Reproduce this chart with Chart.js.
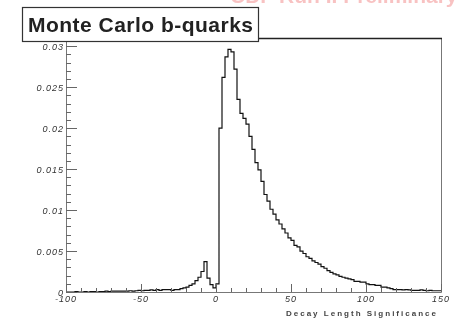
<!DOCTYPE html>
<html><head><meta charset="utf-8">
<script src="https://cdn.jsdelivr.net/npm/chart.js@4"></script>
<style>html,body{margin:0;padding:0;background:#fff;}canvas{display:block;}</style>
</head><body>
<canvas id="c" width="456" height="321"></canvas>
<script>
// ---- data ----
const titleText = "Monte Carlo b-quarks";
const xAxisTitle = "Decay Length Significance";
const bannerText = "CDF Run II Preliminary";
const binStart = -100;
const binWidth = 2;
// bin contents (normalised), one per 2-unit bin from -100 to 150
const binValues = [
  // -100 .. -62
  0, 0, 0, 0, 0.00005, 0, 0, 0.00005, 0, 0.00005, 0.00005, 0, 0.00005, 0.00005, 0.0001, 0.00005, 0.0001, 0.0001, 0.0001, 0.0001,
  // -60 .. -42
  0.0001, 0.0001, 0.00015, 0.0001, 0.00015, 0.0002, 0.00015, 0.0002, 0.0002, 0.00025,
  // -40 .. -22
  0.0002, 0.0003, 0.0002, 0.0003, 0.0003, 0.0003, 0.0002, 0.0003, 0.0003, 0.0004,
  // -20 .. -2
  0.0005, 0.0006, 0.0008, 0.0010, 0.0014, 0.0018, 0.0025, 0.0037, 0.0017, 0.0009,
  // 0 .. 18
  0.0005, 0.0010, 0.0200, 0.0262, 0.0287, 0.0296, 0.0293, 0.0272, 0.0235, 0.0218,
  // 20 .. 38
  0.0212, 0.0205, 0.0190, 0.0174, 0.0158, 0.0149, 0.0135, 0.0119, 0.0111, 0.0101,
  // 40 .. 58
  0.0095, 0.0088, 0.0083, 0.0077, 0.0072, 0.0066, 0.0063, 0.0057, 0.0055, 0.0050,
  // 60 .. 78
  0.0047, 0.0043, 0.0041, 0.0038, 0.0036, 0.0034, 0.0031, 0.0029, 0.0026, 0.0024,
  // 80 .. 98
  0.0022, 0.0021, 0.0019, 0.0018, 0.0017, 0.0016, 0.0015, 0.0013, 0.0013, 0.0012,
  // 100 .. 118
  0.0012, 0.0010, 0.0009, 0.0009, 0.0008, 0.0008, 0.0006, 0.0006, 0.0005, 0.0004,
  // 120 .. 148
  0.0003, 0.0003, 0.0003, 0.00025, 0.0003, 0.00025, 0.0002, 0.0002, 0.0002, 0.00025, 0.0002, 0.00015, 0.0002, 0.00015, 0.00015
];
const xMin = -100, xMax = 150;
const yMin = 0, yMax = 0.031;
const xMajorTicks = [-100, -50, 0, 50, 100, 150];
const xTickLabels = ["-100", "-50", "0", "50", "100", "150"];
const yMajorTicks = [0, 0.005, 0.01, 0.015, 0.02, 0.025, 0.03];
const yTickLabels = ["0", "0.005", "0.01", "0.015", "0.02", "0.025", "0.03"];
const xMinorStep = 10;
const yMinorStep = 0.001;

// build step points from bins
const points = binValues.map((v, i) => ({x: binStart + i * binWidth, y: v}));
points.push({x: binStart + binValues.length * binWidth, y: binValues[binValues.length - 1]});

const deco = {
  id: 'rootDeco',
  afterDraw(chart) {
    const ctx = chart.ctx;
    const a = chart.chartArea;
    const xs = chart.scales.x, ys = chart.scales.y;
    ctx.save();
    // frame
    ctx.strokeStyle = '#777';
    ctx.lineWidth = 1;
    ctx.beginPath();
    ctx.moveTo(a.left + 0.5, a.top); ctx.lineTo(a.left + 0.5, a.bottom + 0.5);
    ctx.lineTo(a.right + 0.5, a.bottom + 0.5); ctx.lineTo(a.right + 0.5, a.top);
    ctx.stroke();
    ctx.strokeStyle = '#222';
    ctx.lineWidth = 1.5;
    ctx.beginPath();
    ctx.moveTo(a.left, a.top + 0.5); ctx.lineTo(a.right + 1, a.top + 0.5);
    ctx.stroke();

    // y ticks (inside, pointing right)
    ctx.strokeStyle = '#666';
    ctx.lineWidth = 1;
    ctx.beginPath();
    for (let k = 0; k * yMinorStep <= yMax + 1e-9; k++) {
      const v = k * yMinorStep;
      const py = Math.round(ys.getPixelForValue(v)) + 0.5;
      const major = (k % 5 === 0);
      ctx.moveTo(a.left, py); ctx.lineTo(a.left + (major ? 11 : 5), py);
    }
    // x ticks (inside, pointing up)
    for (let v = xMin; v <= xMax + 1e-9; v += xMinorStep) {
      const px = Math.round(xs.getPixelForValue(v)) + 0.5;
      const major = xMajorTicks.includes(v);
      ctx.moveTo(px, a.bottom); ctx.lineTo(px, a.bottom - (major ? 8 : 4));
    }
    ctx.stroke();

    // tick labels
    ctx.fillStyle = '#333';
    ctx.font = 'italic 9px "Liberation Sans", Arial, sans-serif';
    ctx.letterSpacing = '1px';
    ctx.textAlign = 'right';
    ctx.textBaseline = 'middle';
    yMajorTicks.forEach((v, i) => {
      ctx.fillText(yTickLabels[i], a.left - 2, ys.getPixelForValue(v) + 1);
    });
    ctx.textAlign = 'center';
    ctx.textBaseline = 'top';
    xMajorTicks.forEach((v, i) => {
      ctx.fillText(xTickLabels[i], xs.getPixelForValue(v), a.bottom + 3);
    });

    // axis title
    ctx.font = 'bold 8px "Liberation Sans", Arial, sans-serif';
    ctx.letterSpacing = '0px';
    let w = ctx.measureText(xAxisTitle).width;
    const targetW = 150;
    ctx.letterSpacing = ((targetW - w) / (xAxisTitle.length - 1)).toFixed(2) + 'px';
    ctx.textAlign = 'right';
    ctx.textBaseline = 'alphabetic';
    ctx.fillStyle = '#444';
    ctx.fillText(xAxisTitle, a.right - 3, 316);

    // red banner (cut off at top)
    ctx.letterSpacing = '0px';
    ctx.font = 'bold 21px "Liberation Sans", Arial, sans-serif';
    ctx.fillStyle = 'rgba(235,80,80,0.35)';
    ctx.textAlign = 'left';
    ctx.fillText(bannerText, 230, 3);

    // title box
    const bx = 22, by = 7, bw = 236, bh = 34;
    ctx.fillStyle = '#fff';
    ctx.fillRect(bx, by, bw, bh);
    ctx.strokeStyle = '#333';
    ctx.lineWidth = 1.2;
    ctx.strokeRect(bx + 0.5, by + 0.5, bw, bh);
    ctx.font = 'bold 21px "Liberation Sans", Arial, sans-serif';
    w = ctx.measureText(titleText).width;
    ctx.letterSpacing = ((225 - w) / (titleText.length - 1)).toFixed(2) + 'px';
    ctx.fillStyle = '#222';
    ctx.fillText(titleText, 28, 32);
    ctx.restore();
  }
};

new Chart(document.getElementById('c'), {
  type: 'line',
  data: {datasets: [{
    data: points,
    stepped: 'after',
    borderColor: '#111',
    borderWidth: 1.2,
    pointRadius: 0,
    fill: false
  }]},
  options: {
    responsive: false,
    animation: false,
    devicePixelRatio: 1,
    layout: {padding: {left: 66, right: 15, top: 38, bottom: 29}},
    plugins: {legend: {display: false}, tooltip: {enabled: false}},
    scales: {
      x: {type: 'linear', min: xMin, max: xMax,
          ticks: {display: false}, grid: {display: false, drawTicks: false}, border: {display: false}},
      y: {type: 'linear', min: yMin, max: yMax,
          ticks: {display: false}, grid: {display: false, drawTicks: false}, border: {display: false}}
    }
  },
  plugins: [deco]
});
</script>
</body></html>
